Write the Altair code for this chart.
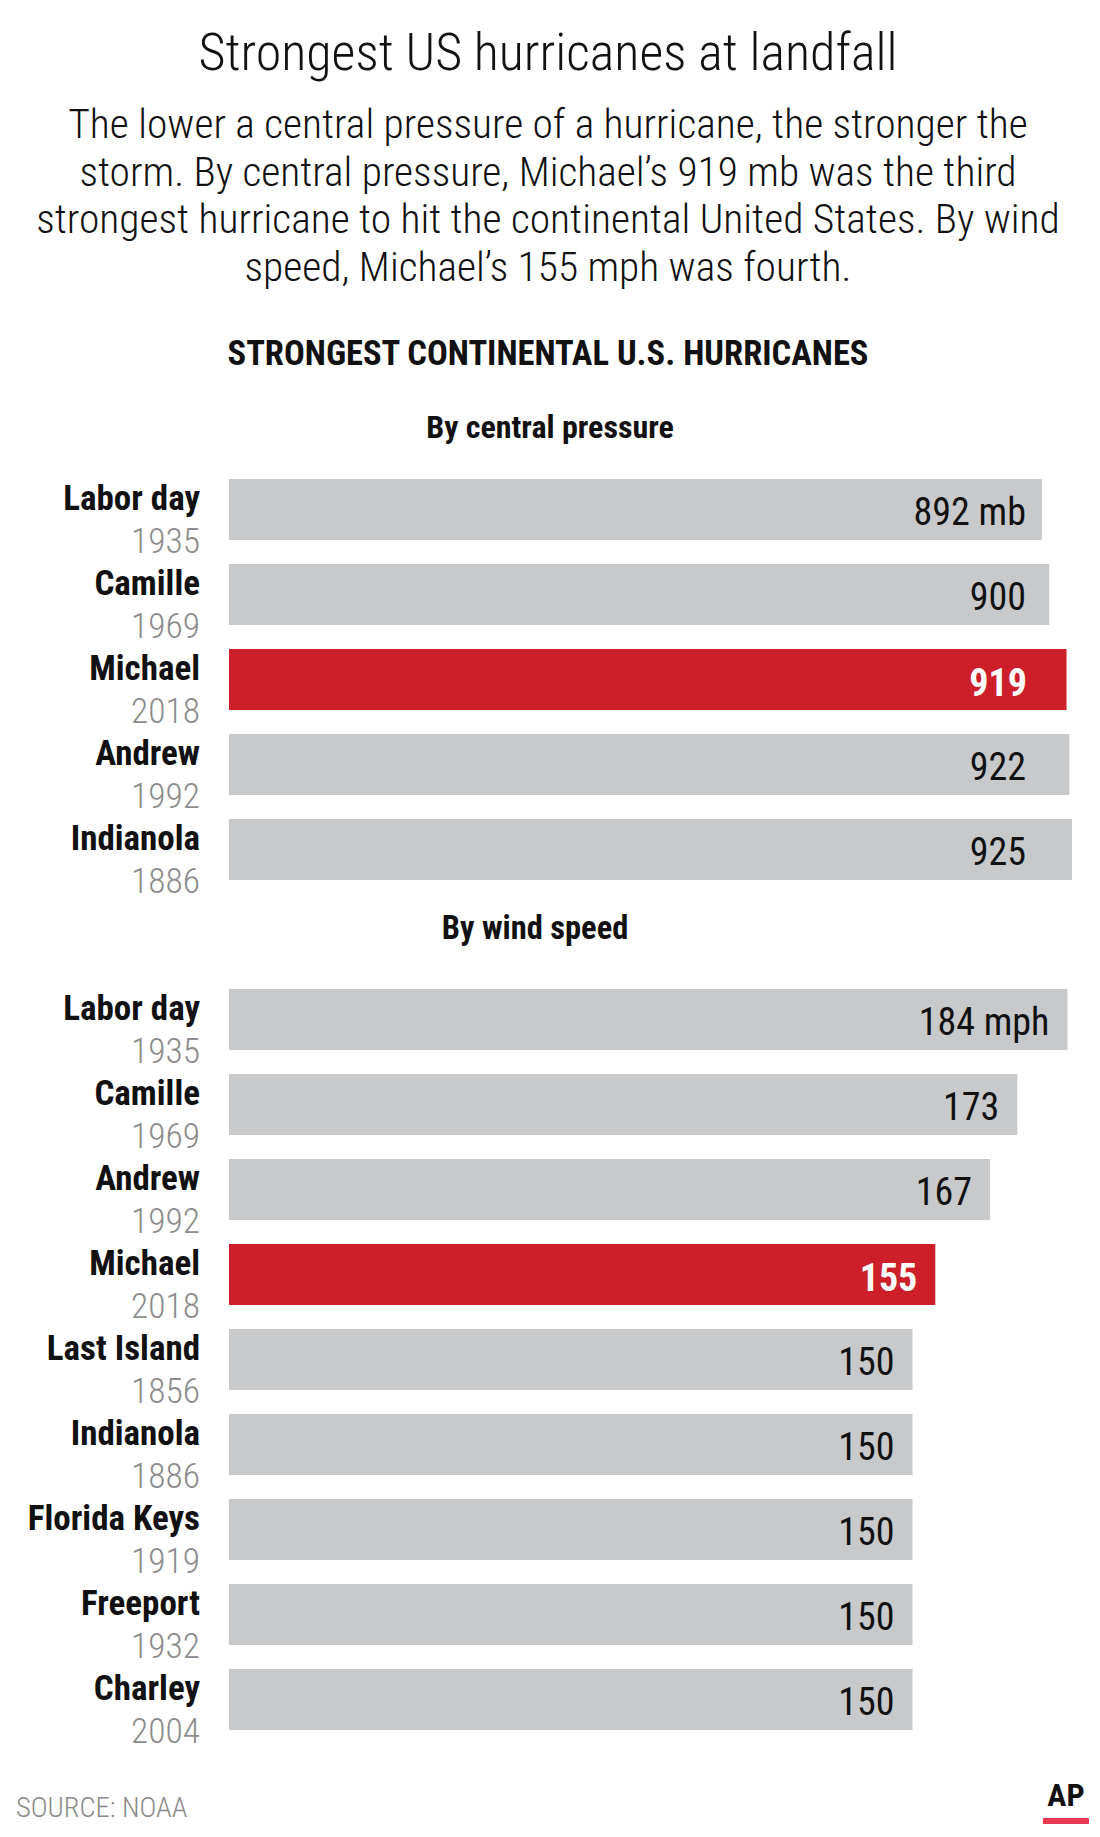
import altair as alt
import pandas as pd

# ---------------- data ----------------
TITLE = "Strongest US hurricanes at landfall"
SUBTITLE = [
    "The lower a central pressure of a hurricane, the stronger the",
    "storm. By central pressure, Michael\u2019s 919 mb was the third",
    "strongest hurricane to hit the continental United States. By wind",
    "speed, Michael\u2019s 155 mph was fourth.",
]
HEADER = "STRONGEST CONTINENTAL U.S. HURRICANES"
SECTION_P = "By central pressure"
SECTION_W = "By wind speed"
SOURCE = "SOURCE: NOAA"
CREDIT = "AP"
HIGHLIGHT = "Michael"

pressure_names = ["Labor day", "Camille", "Michael", "Andrew", "Indianola"]
pressure_years = ["1935", "1969", "2018", "1992", "1886"]
pressure_mb = [892, 900, 919, 922, 925]

wind_names = ["Labor day", "Camille", "Andrew", "Michael", "Last Island",
              "Indianola", "Florida Keys", "Freeport", "Charley"]
wind_years = ["1935", "1969", "1992", "2018", "1856", "1886", "1919", "1932", "2004"]
wind_mph = [184, 173, 167, 155, 150, 150, 150, 150, 150]

# ---------------- styles ----------------
FONT = "Roboto Condensed, Liberation Sans Narrow, DejaVu Sans Condensed, Arial Narrow, sans-serif"
GRAY = "#c8c9cb"
RED = "#cc1f2a"
YEAR_GRAY = "#8c8c8c"
INK = "#111111"

p_rows = [f"p{i}" for i in range(len(pressure_mb))]
w_rows = [f"w{i}" for i in range(len(wind_mph))]
row_domain = p_rows + ["gap"] + w_rows

df_p = pd.DataFrame({"row": p_rows, "name": pressure_names, "year": pressure_years, "mb": pressure_mb})
df_p["label"] = [f"{v} mb" if i == 0 else str(v) for i, v in enumerate(pressure_mb)]
df_w = pd.DataFrame({"row": w_rows, "name": wind_names, "year": wind_years, "mph": wind_mph})
df_w["label"] = [f"{v} mph" if i == 0 else str(v) for i, v in enumerate(wind_mph)]
df_names = pd.concat([df_p[["row", "name", "year"]], df_w[["row", "name", "year"]]], ignore_index=True)

y_enc = alt.Y("row:N", scale=alt.Scale(domain=row_domain, paddingInner=0.282, paddingOuter=0.141), axis=None)
x_p_scale = alt.Scale(domain=[0, max(pressure_mb)], nice=False, zero=True)
x_w_scale = alt.Scale(domain=[0, 185], nice=False, zero=True)

bar_color = alt.condition(alt.datum.name == HIGHLIGHT, alt.value(RED), alt.value(GRAY))

p_bars = alt.Chart(df_p).mark_bar(cornerRadius=0).encode(
    x=alt.X("mb:Q", scale=x_p_scale, axis=None), y=y_enc, color=bar_color)
w_bars = alt.Chart(df_w).mark_bar(cornerRadius=0).encode(
    x=alt.X("mph:Q", scale=x_w_scale, axis=None), y=y_enc, color=bar_color)

VAL_SIZE = 38
p_lab = alt.Chart(df_p).transform_filter(alt.datum.name != HIGHLIGHT).mark_text(
    align="right", baseline="alphabetic", dx=-16, dy=15.5, fontSize=VAL_SIZE, font=FONT, color=INK
).encode(x=alt.XDatum(min(pressure_mb), type="quantitative", scale=x_p_scale, axis=None), y=y_enc, text="label:N")
p_lab_hl = alt.Chart(df_p).transform_filter(alt.datum.name == HIGHLIGHT).mark_text(
    align="right", baseline="alphabetic", dx=-15, dy=16.5, fontSize=VAL_SIZE, font=FONT, fontWeight="bold", color="white"
).encode(x=alt.XDatum(min(pressure_mb), type="quantitative", scale=x_p_scale, axis=None), y=y_enc, text="label:N")

w_lab = alt.Chart(df_w).transform_filter(alt.datum.name != HIGHLIGHT).mark_text(
    align="right", baseline="alphabetic", dx=-18, dy=15.5, fontSize=VAL_SIZE, font=FONT, color=INK
).encode(x=alt.X("mph:Q", scale=x_w_scale, axis=None), y=y_enc, text="label:N")
w_lab_hl = alt.Chart(df_w).transform_filter(alt.datum.name == HIGHLIGHT).mark_text(
    align="right", baseline="alphabetic", dx=-18, dy=16.5, fontSize=VAL_SIZE, font=FONT, fontWeight="bold", color="white"
).encode(x=alt.X("mph:Q", scale=x_w_scale, axis=None), y=y_enc, text="label:N")

names = alt.Chart(df_names).mark_text(
    align="right", baseline="alphabetic", fontSize=35, font=FONT, fontWeight="bold", color=INK
).encode(x=alt.value(-29), y=y_enc, text="name:N")
years = alt.Chart(df_names).mark_text(
    align="right", baseline="alphabetic", dy=43.5, fontSize=35.5, font=FONT, fontWeight=300, color=YEAR_GRAY
).encode(x=alt.value(-29), y=y_enc, text="year:N")

one = pd.DataFrame({"k": [0]})


def note(text, x, y, size, weight="normal", color=INK, align="center", line_height=None):
    kw = dict(text=text, align=align, baseline="alphabetic", fontSize=size, font=FONT,
              fontWeight=weight, color=color)
    if line_height is not None:
        kw["lineHeight"] = line_height
    return alt.Chart(one).mark_text(**kw).encode(x=alt.value(x), y=alt.value(y))


title = note(TITLE, 319, -397, 52, weight=300)
subtitle = note(SUBTITLE, 319, -329, 41.5, weight=300, line_height=47.5)
header = note(HEADER, 319, -102, 34.5, weight="bold")
sec_p = note(SECTION_P, 321, -29, 32, weight="bold")
sec_w = note(SECTION_W, 306, 472, 32.5, weight="bold")
source = note(SOURCE, -213, 1350, 28.5, weight=300, color="#8a8a8a", align="left")
credit = note(CREDIT, 837, 1339, 32, weight="bold")
credit_line = alt.Chart(one).mark_rule(color="#e8384f", strokeWidth=6).encode(
    x=alt.value(814), x2=alt.value(860), y=alt.value(1354))

chart = alt.layer(
    p_bars, w_bars, p_lab, p_lab_hl, w_lab, w_lab_hl, names, years,
    title, subtitle, header, sec_p, sec_w, source, credit, credit_line
).resolve_scale(x="independent").properties(
    width=843, height=1275,
    padding={"left": 221, "top": 459, "right": 20, "bottom": 87},
    autosize=alt.AutoSizeParams(type="none"),
    background="white",
).configure_view(stroke=None)

chart.save("out.html", embed_options={"renderer": "svg", "actions": False})
